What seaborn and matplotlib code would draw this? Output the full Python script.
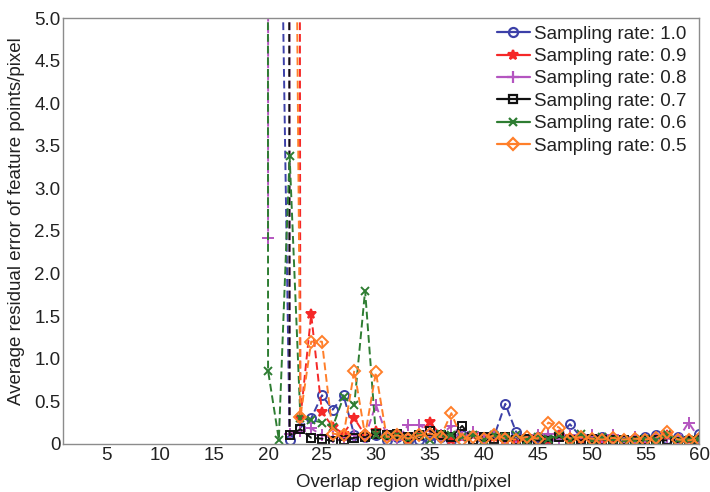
import numpy as np
import pandas as pd
import seaborn as sns
import matplotlib
matplotlib.use("Agg")
import matplotlib.pyplot as plt
from matplotlib.lines import Line2D

# Overlap width (pixels) at which each sampling rate was evaluated
widths = list(range(19, 61))

# Average residual error per sampling rate (None = not evaluated)
rate_10 = [None, None, 8.3, 0.05, 0.19, 0.30, 0.57, 0.40, 0.57, 0.10, 0.08,
           0.10, 0.05, 0.08, 0.03, 0.05, 0.03, 0.08, 0.05, 0.10, 0.05, 0.08,
           0.10, 0.47, 0.14, 0.05, 0.08, 0.06, 0.10, 0.23, 0.08, 0.05, 0.08,
           0.06, 0.05, 0.06, 0.08, 0.10, 0.06, 0.08, 0.05, 0.12]
rate_09 = [None, None, None, 100.0, 0.30, 1.52, 0.37, 0.20, 0.12, 0.30, 0.10,
           0.15, 0.08, 0.10, 0.05, 0.12, 0.26, 0.10, 0.05, 0.08, 0.10, 0.06,
           0.08, 0.05, 0.06, 0.05, 0.08, 0.05, 0.10, 0.04, 0.06, 0.05, 0.04,
           0.06, 0.05, 0.04, 0.05, 0.06, 0.10, 0.04, 0.05, 0.04]
rate_08 = [500.0, 2.42, 500.0, 0.12, 0.15, 0.18, 0.10, 0.08, 0.05, 0.10, 0.08,
           0.46, 0.10, 0.05, 0.22, 0.22, 0.15, 0.10, 0.21, 0.10, 0.14, 0.05,
           0.08, 0.05, 0.06, 0.05, 0.10, 0.12, 0.05, 0.10, 0.08, 0.10, 0.06,
           0.10, 0.05, 0.08, 0.05, 0.06, 0.08, 0.05, 0.25, 0.06]
rate_07 = [None, None, 150.0, 0.10, 0.17, 0.07, 0.06, 0.03, 0.05, 0.07, 0.08,
           0.12, 0.10, 0.12, 0.08, 0.10, 0.15, 0.10, 0.08, 0.21, 0.05, 0.08,
           0.06, 0.08, 0.05, 0.06, 0.04, 0.03, 0.08, 0.05, 0.04, 0.06, 0.05,
           0.04, 0.05, 0.03, 0.05, 0.04, 0.04, 0.02, 0.03, 0.04]
rate_06 = [400.0, 0.86, 0.05, 3.38, 0.30, 0.28, 0.25, 0.20, 0.55, 0.46, 1.80,
           0.10, 0.08, 0.10, 0.06, 0.10, 0.05, 0.12, 0.10, 0.08, 0.10, 0.05,
           0.10, 0.08, 0.10, 0.05, 0.08, 0.06, 0.10, 0.05, 0.12, 0.05, 0.08,
           0.06, 0.04, 0.05, 0.06, 0.04, 0.12, 0.05, 0.04, 0.06]
rate_05 = [None, None, None, 16.0, 0.32, 1.20, 1.20, 0.12, 0.10, 0.86, 0.10,
           0.84, 0.08, 0.10, 0.06, 0.10, 0.12, 0.08, 0.36, 0.05, 0.08, 0.06,
           0.10, 0.06, 0.05, 0.08, 0.06, 0.25, 0.19, 0.06, 0.08, 0.06, 0.05,
           0.07, 0.05, 0.06, 0.05, 0.07, 0.14, 0.05, 0.04, 0.06]

labels = ["Sampling rate: 1.0", "Sampling rate: 0.9", "Sampling rate: 0.8",
          "Sampling rate: 0.7", "Sampling rate: 0.6", "Sampling rate: 0.5"]
series = [rate_10, rate_09, rate_08, rate_07, rate_06, rate_05]

x_ticks = list(range(5, 61, 5))
y_ticks = [0, 0.5, 1.0, 1.5, 2.0, 2.5, 3.0, 3.5, 4.0, 4.5, 5.0]
y_tick_labels = ["0", "0.5", "1.0", "1.5", "2.0", "2.5", "3.0", "3.5", "4.0", "4.5", "5.0"]

colors = ["#3c40a8", "#f52828", "#b455c0", "#111111", "#2e7d32", "#ff7f2a"]
markers = ["o", "*", "+", "s", "x", "D"]
sizes = [6.5, 7.5, 8, 5.5, 6, 6]
open_face = [True, False, False, True, False, True]

FS = 13.5

sns.set_theme(style="white")
plt.rcParams["font.family"] = ["Liberation Sans", "DejaVu Sans"]

fig = plt.figure(figsize=(7.10, 4.92), dpi=100)
ax = fig.add_axes([0.089, 0.098, 0.896, 0.865])

handles = []
for lab, vals, c, m, s, of in zip(labels, series, colors, markers, sizes, open_face):
    df = pd.DataFrame({"width": widths, "error": vals}).dropna()
    sns.lineplot(data=df, x="width", y="error", ax=ax, color=c, marker=m,
                 markersize=s, linewidth=1.4, markeredgewidth=1.4,
                 markerfacecolor="none" if of else c, markeredgecolor=c,
                 dashes=False, legend=False, estimator=None, sort=False)
    ax.lines[-1].set_dashes((4, 2))
    handles.append(Line2D([], [], color=c, marker=m, markersize=s,
                          linewidth=1.6, markeredgewidth=1.6,
                          markerfacecolor="none" if of else c,
                          markeredgecolor=c))

ax.set_xlim(1, 60)
ax.set_ylim(0, 5)
ax.set_xticks(x_ticks)
ax.set_yticks(y_ticks)
ax.set_yticklabels(y_tick_labels)
ax.set_xlabel("Overlap region width/pixel", fontsize=FS, color="#222222")
ax.set_ylabel("Average residual error of feature points/pixel", fontsize=FS,
              color="#222222")
ax.xaxis.set_label_coords(0.535, -0.072)
ax.yaxis.set_label_coords(-0.060, 0.523)
ax.tick_params(axis="both", direction="in", length=5, width=0.8, color="#888888",
               labelsize=FS, labelcolor="#222222", pad=2)
for sp in ax.spines.values():
    sp.set_color("#8c8c8c")
    sp.set_linewidth(1.0)

ax.legend(handles, labels, loc="upper left", bbox_to_anchor=(0.700, 0.948),
          bbox_transform=fig.transFigure, frameon=False, fontsize=FS,
          handlelength=1.75, handletextpad=0.25, labelspacing=0.28,
          borderpad=0, borderaxespad=0, labelcolor="#222222")

fig.savefig("out.png", dpi=100)
